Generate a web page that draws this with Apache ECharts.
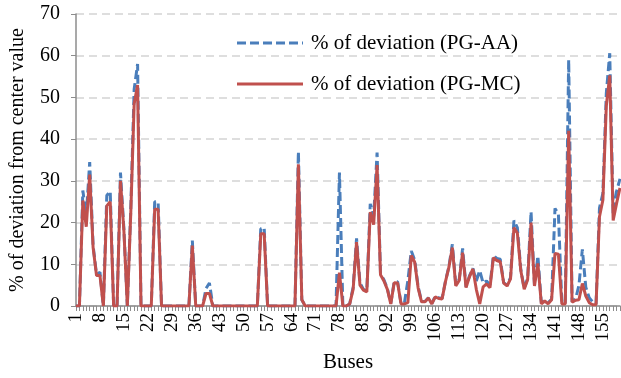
<!DOCTYPE html>
<html>
<head>
<meta charset="utf-8">
<script src="https://cdn.jsdelivr.net/npm/echarts@6/dist/echarts.min.js"></script>
<style>
  html, body { margin: 0; padding: 0; background: #fff; }
  #chart { width: 621px; height: 378px; }
</style>
</head>
<body>
<div id="chart"></div>
<script>
// Bus numbers 1..160
const buses = [];
for (let i = 1; i <= 160; i++) buses.push(String(i));

// % of deviation from the center value, PG-AA method
const devPGAA = [
  0, 0, 27.7, 21.5, 34.5, 14.5, 7.5, 8.1, 0, 26.5,
  27.5, 0, 0, 32, 18.5, 0, 23, 52, 58, 0,
  0, 0, 0, 25, 25, 0, 0, 0, 0, 0,
  0, 0, 0, 0, 15.7, 0, 0, 0, 4.2, 5.5,
  0, 0, 0, 0, 0, 0, 0, 0, 0, 0,
  0, 0, 0, 0, 18.5, 18.8, 0, 0, 0, 0,
  0, 0, 0, 0, 0, 37, 1.5, 0, 0, 0,
  0, 0, 0, 0, 0, 0, 0, 32, 0, 0,
  0.5, 4.5, 16.2, 5.5, 4, 3.6, 24.5, 21.5, 36.8, 7.7,
  6.3, 4.2, 0.6, 5.8, 5.8, 0.6, 0.8, 6.1, 13.2, 11,
  4.6, 1.1, 1.1, 2, 0.6, 2.3, 2, 1.8, 6, 9.5,
  14.8, 5.2, 6.3, 13.8, 4.6, 7.2, 9, 6, 8.5, 5.5,
  6, 5, 12.1, 11.4, 11.2, 5.6, 5, 6.8, 20.5, 18.8,
  8.8, 4.2, 6.6, 22.6, 5, 12, 0.8, 1.3, 0.8, 1.6,
  23.4, 22, 0.8, 0.8, 59, 1, 1.6, 5, 13.6, 4.5,
  2, 1, 0.5, 23.5, 27, 51, 60.6, 22, 27.5, 30.5
];

// % of deviation from the center value, PG-MC method
const devPGMC = [
  0, 0, 25.3, 19, 31.5, 14, 7.3, 7.3, 0, 24,
  25, 0, 0, 30, 18, 0, 22, 48.5, 53, 0,
  0, 0, 0, 23.2, 23.2, 0, 0, 0, 0, 0,
  0, 0, 0, 0, 14.5, 0, 0, 0, 3, 3,
  0, 0, 0, 0, 0, 0, 0, 0, 0, 0,
  0, 0, 0, 0, 17.3, 17.3, 0, 0, 0, 0,
  0, 0, 0, 0, 0, 34, 1.5, 0, 0, 0,
  0, 0, 0, 0, 0, 0, 0, 8, 0, 0,
  0.5, 4, 15.3, 5, 3.8, 3.4, 22.5, 19.5, 33.8, 7.5,
  6, 4, 0.5, 5.6, 5.5, 0.5, 0.5, 0.8, 12.1, 10.5,
  4.3, 1, 1, 1.9, 0.5, 2.2, 1.8, 1.7, 5.9, 9.3,
  14, 4.8, 6.1, 12.8, 4.4, 7, 8.9, 4, 0.5, 4.6,
  5.3, 4.4, 11.6, 10.9, 10.6, 5.5, 4.8, 6.5, 18.8, 17.5,
  8.5, 4, 6.3, 20, 4.8, 10.2, 0.5, 1.2, 0.5, 1.5,
  12.6, 12.4, 0.5, 0.5, 42, 0.9, 1.4, 1.5, 5.4, 2.4,
  0.8, 0.3, 0.3, 21.4, 25.4, 48, 55.3, 20.5, 24.6, 28.3
];

const yTicks = { min: 0, max: 70, step: 10 };
const seriesNames = ['% of deviation (PG-AA)', '% of deviation (PG-MC)'];

const serif = "'Liberation Serif', 'Times New Roman', serif";
const blue = '#4a7ebb';
const red = '#c0504d';
const blueDash = [9, 4];

// Legend key: a line sample followed by its label, one row per series
function legendRow(y, name, color, dash) {
  return [
    {
      type: 'line',
      shape: { x1: 237, y1: y, x2: 303, y2: y },
      style: { stroke: color, lineWidth: 3, lineDash: dash || null }
    },
    {
      type: 'text',
      x: 311,
      y: y,
      style: {
        text: name,
        font: '21px ' + serif,
        fill: '#000',
        textVerticalAlign: 'middle',
        verticalAlign: 'middle'
      }
    }
  ];
}

const chart = echarts.init(document.getElementById('chart'), null, { renderer: 'canvas' });

chart.setOption({
  animation: false,
  backgroundColor: '#ffffff',
  grid: { left: 76, right: 1, top: 14, bottom: 72, outerBoundsMode: 'none', containLabel: false },
  graphic: [].concat(
    legendRow(43, seriesNames[0], blue, blueDash),
    legendRow(84, seriesNames[1], red, null)
  ),
  xAxis: {
    type: 'category',
    data: buses,
    boundaryGap: false,
    name: 'Buses',
    nameLocation: 'middle',
    nameGap: 46,
    nameTextStyle: { fontFamily: serif, fontSize: 21, color: '#000' },
    axisLine: { lineStyle: { color: '#8c8c8c', width: 1.5 } },
    axisTick: { show: true, interval: 0, length: 5, lineStyle: { color: '#8c8c8c' } },
    axisLabel: {
      interval: 6,
      rotate: 90,
      margin: 7,
      fontFamily: serif,
      fontSize: 19,
      color: '#000'
    },
    splitLine: { show: false }
  },
  yAxis: {
    type: 'value',
    min: yTicks.min,
    max: yTicks.max,
    interval: yTicks.step,
    name: '% of deviation from center value',
    nameLocation: 'middle',
    nameGap: 48,
    nameTextStyle: { fontFamily: serif, fontSize: 20, color: '#000' },
    axisLine: { show: true, lineStyle: { color: '#8c8c8c', width: 1.5 } },
    axisTick: { show: true, length: 5, lineStyle: { color: '#8c8c8c' } },
    axisLabel: { margin: 16, fontFamily: serif, fontSize: 20, color: '#000' },
    splitLine: { show: true, lineStyle: { color: '#d4d4d4', width: 1.5, type: [8, 5] } }
  },
  series: [
    {
      name: seriesNames[0],
      type: 'line',
      data: devPGAA,
      symbol: 'none',
      lineStyle: { color: blue, width: 3, type: blueDash },
      itemStyle: { color: blue },
      z: 2
    },
    {
      name: seriesNames[1],
      type: 'line',
      data: devPGMC,
      symbol: 'none',
      lineStyle: { color: red, width: 3 },
      itemStyle: { color: red },
      z: 3
    }
  ]
});
</script>
</body>
</html>
